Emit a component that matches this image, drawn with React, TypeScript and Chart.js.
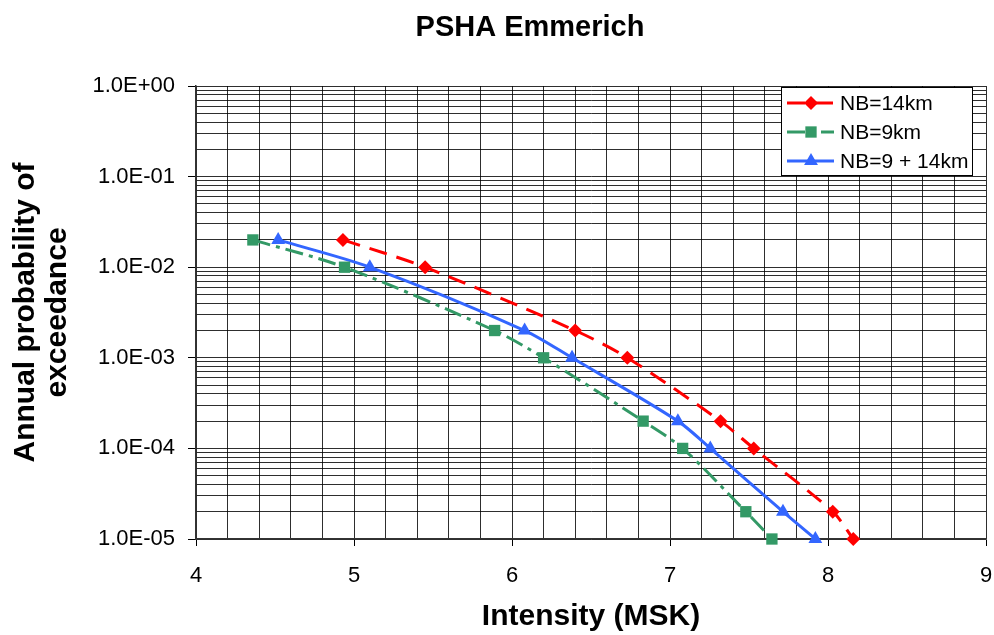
import React, { useEffect, useRef } from 'react';
import { Chart, registerables } from 'chart.js';

Chart.register(...registerables);

// ---- data ----
const PROBABILITY = [2e-2, 1e-2, 2e-3, 1e-3, 2e-4, 1e-4, 2e-5, 1e-5];
const NB14_INTENSITY = [4.93, 5.45, 6.4, 6.73, 7.32, 7.53, 8.03, 8.16];
const NB9_INTENSITY = [4.36, 4.94, 5.89, 6.2, 6.83, 7.08, 7.48, 7.645];
const NB9_14_INTENSITY = [4.52, 5.1, 6.08, 6.38, 7.05, 7.255, 7.715, 7.92];
const SERIES_LABELS = ['NB=14km', 'NB=9km', 'NB=9 + 14km'];

const X_MIN = 4;
const X_MAX = 9;
const X_MINOR_STEP = 0.2;
const X_TICK_VALUES = [4, 5, 6, 7, 8, 9];
const X_TICK_LABELS = ['4', '5', '6', '7', '8', '9'];
const Y_DECADES = [-5, -4, -3, -2, -1, 0];
const Y_TICK_LABELS = ['1.0E-05', '1.0E-04', '1.0E-03', '1.0E-02', '1.0E-01', '1.0E+00'];

const TITLE = 'PSHA Emmerich';
const X_TITLE = 'Intensity (MSK)';
const Y_TITLE = ['Annual probability of', 'exceedance'];

const FONT = '"Liberation Sans", Arial, sans-serif';
const GRID = 'rgba(0,0,0,0.82)';

const isXMajor = (v: number) => X_TICK_VALUES.some((t) => Math.abs(t - v) < 1e-6);
const yDecadeIndex = (v: number) => {
  const l = Math.log10(v);
  return Y_DECADES.findIndex((d) => Math.abs(d - l) < 1e-6);
};

function markerPath(ctx: CanvasRenderingContext2D, style: string, x: number, y: number, r: number) {
  ctx.beginPath();
  if (style === 'rectRot') {
    ctx.moveTo(x, y - r);
    ctx.lineTo(x + r, y);
    ctx.lineTo(x, y + r);
    ctx.lineTo(x - r, y);
  } else if (style === 'rect') {
    const s = Math.SQRT1_2 * r;
    ctx.rect(x - s, y - s, 2 * s, 2 * s);
  } else {
    const a = (2 * Math.PI) / 3;
    ctx.moveTo(x, y - r);
    ctx.lineTo(x + Math.sin(a) * r, y - Math.cos(a) * r);
    ctx.lineTo(x + Math.sin(2 * a) * r, y - Math.cos(2 * a) * r);
  }
  ctx.closePath();
}

const titlePlugin = {
  id: 'customTitle',
  afterDraw(chart: any) {
    const ctx = chart.ctx;
    ctx.save();
    ctx.font = `bold 29px ${FONT}`;
    ctx.fillStyle = '#000';
    ctx.textAlign = 'center';
    ctx.textBaseline = 'alphabetic';
    ctx.fillText(TITLE, 530, 36);
    ctx.restore();
  },
};

const legendPlugin = {
  id: 'boxLegend',
  afterDraw(chart: any) {
    const ctx = chart.ctx;
    const left = 781.5;
    const top = 87.5;
    const w = 191;
    const h = 88;
    ctx.save();
    ctx.fillStyle = '#fff';
    ctx.fillRect(left, top, w, h);
    ctx.strokeStyle = '#000';
    ctx.lineWidth = 1;
    ctx.strokeRect(left, top, w, h);
    chart.data.datasets.forEach((ds: any, i: number) => {
      const y = 103 + 29 * i;
      ctx.save();
      ctx.strokeStyle = ds.borderColor;
      ctx.lineWidth = ds.borderWidth;
      ctx.setLineDash(ds.borderDash || []);
      ctx.beginPath();
      ctx.moveTo(787, y);
      ctx.lineTo(834, y);
      ctx.stroke();
      ctx.setLineDash([]);
      ctx.fillStyle = ds.backgroundColor;
      markerPath(ctx, ds.pointStyle, 811, y, ds.pointRadius);
      ctx.fill();
      ctx.restore();
      ctx.font = `21px ${FONT}`;
      ctx.fillStyle = '#000';
      ctx.textAlign = 'left';
      ctx.textBaseline = 'middle';
      ctx.fillText(SERIES_LABELS[i], 840, y + 1);
    });
    ctx.restore();
  },
};

export default function App() {
  const ref = useRef<HTMLCanvasElement | null>(null);

  useEffect(() => {
    if (!ref.current) return;
    const mk = (xs: number[]) => xs.map((x, i) => ({ x, y: PROBABILITY[i] }));
    const chart = new Chart(ref.current, {
      type: 'line',
      data: {
        datasets: [
          {
            label: SERIES_LABELS[0],
            data: mk(NB14_INTENSITY),
            borderColor: '#FF0000',
            backgroundColor: '#FF0000',
            borderWidth: 3,
            borderDash: [18, 10],
            pointStyle: 'rectRot',
            pointRadius: 7,
            pointBorderWidth: 0,
            tension: 0.3,
            clip: false,
          },
          {
            label: SERIES_LABELS[1],
            data: mk(NB9_INTENSITY),
            borderColor: '#339966',
            backgroundColor: '#339966',
            borderWidth: 3,
            borderDash: [18, 6, 4, 6],
            pointStyle: 'rect',
            pointRadius: 8,
            pointBorderWidth: 0,
            tension: 0.3,
            clip: false,
          },
          {
            label: SERIES_LABELS[2],
            data: mk(NB9_14_INTENSITY),
            borderColor: '#3366FF',
            backgroundColor: '#3366FF',
            borderWidth: 3,
            pointStyle: 'triangle',
            pointRadius: 8,
            pointBorderWidth: 0,
            tension: 0.3,
            clip: false,
          },
        ] as any,
      },
      options: {
        animation: false,
        responsive: false,
        devicePixelRatio: 1,
        layout: { padding: { left: 0, right: 6, top: 86, bottom: 0 } },
        plugins: {
          legend: { display: false },
          tooltip: { enabled: false },
          title: { display: false },
        },
        scales: {
          x: {
            type: 'linear',
            min: X_MIN,
            max: X_MAX,
            afterBuildTicks(scale: any) {
              const n = Math.round((X_MAX - X_MIN) / X_MINOR_STEP);
              const t = [];
              for (let i = 0; i <= n; i++) t.push({ value: Math.round((X_MIN + i * X_MINOR_STEP) * 1000) / 1000 });
              scale.ticks = t;
            },
            afterFit(scale: any) {
              scale.height = 96;
              scale.paddingLeft = 0;
              scale.paddingRight = 0;
            },
            ticks: {
              autoSkip: false,
              maxRotation: 0,
              color: '#000',
              padding: 17,
              font: { family: FONT, size: 22 },
              callback: (v: any) => {
                const idx = X_TICK_VALUES.findIndex((t) => Math.abs(t - Number(v)) < 1e-6);
                return idx >= 0 ? X_TICK_LABELS[idx] : '';
              },
            },
            grid: {
              color: GRID,
              lineWidth: 1,
              tickLength: 7,
              tickColor: (c: any) => (c.tick && isXMajor(c.tick.value) ? '#000' : 'rgba(0,0,0,0)'),
            },
            border: { display: true, color: '#333', width: 1.5 },
            title: {
              display: true,
              text: X_TITLE,
              color: '#000',
              font: { family: FONT, size: 30, weight: 'bold', lineHeight: 1.0667 },
              padding: { top: 0, bottom: 2 },
            },
          },
          y: {
            type: 'logarithmic',
            min: 1e-5,
            max: 1,
            afterBuildTicks(scale: any) {
              const t = [];
              for (let d = Y_DECADES[0]; d < Y_DECADES[Y_DECADES.length - 1]; d++) {
                for (let s = 1; s <= 9; s++) t.push({ value: parseFloat((s * Math.pow(10, d)).toPrecision(6)) });
              }
              t.push({ value: Math.pow(10, Y_DECADES[Y_DECADES.length - 1]) });
              scale.ticks = t;
            },
            afterFit(scale: any) {
              scale.width = 196;
              scale.paddingTop = 0;
              scale.paddingBottom = 0;
            },
            ticks: {
              autoSkip: false,
              color: '#000',
              padding: 13,
              font: { family: FONT, size: 22 },
              callback: (v: any) => {
                const idx = yDecadeIndex(Number(v));
                return idx >= 0 ? Y_TICK_LABELS[idx] : '';
              },
            },
            grid: {
              color: GRID,
              lineWidth: 1,
              tickLength: 8,
              tickColor: (c: any) => (c.tick && yDecadeIndex(c.tick.value) >= 0 ? '#000' : 'rgba(0,0,0,0)'),
            },
            border: { display: true, color: '#333', width: 1.5 },
            title: {
              display: true,
              text: Y_TITLE,
              color: '#000',
              font: { family: FONT, size: 30, weight: 'bold', lineHeight: 1.0667 },
              padding: { top: 10, bottom: 0 },
            },
          },
        },
      } as any,
      plugins: [titlePlugin, legendPlugin],
    });
    return () => chart.destroy();
  }, []);

  return (
    <div style={{ position: 'fixed', left: 0, top: 0, width: 994, height: 635, background: '#fff' }}>
      <canvas ref={ref} width={994} height={635} style={{ display: 'block' }} />
    </div>
  );
}
